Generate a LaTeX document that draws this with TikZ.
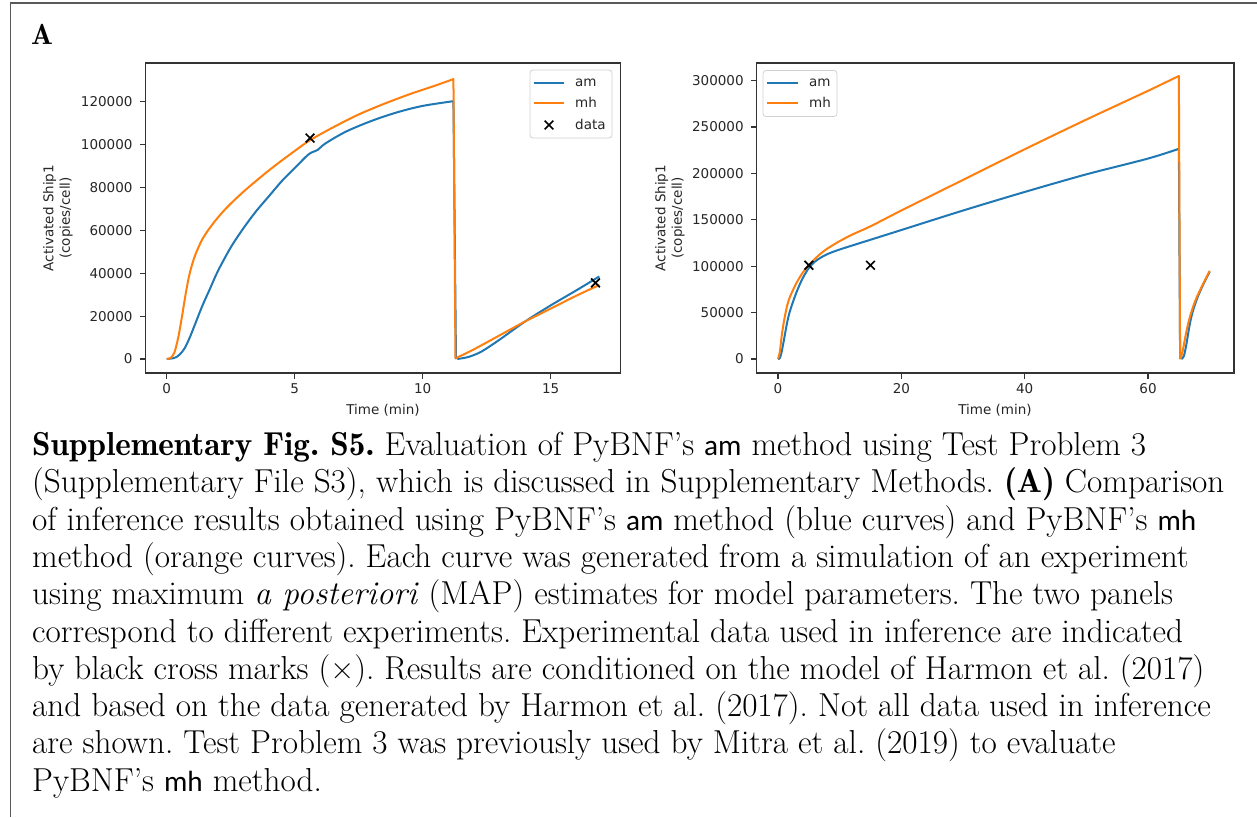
\documentclass[tikz,border=0pt]{standalone}
\usepackage{fontspec}
\usepackage{tikz}
\usetikzlibrary{shapes.misc}
\setmainfont{lmroman17-regular.otf}[BoldFont=lmromandemi10-regular.otf,ItalicFont=lmroman12-italic.otf]
\newfontfamily\plotfont{DejaVu Sans}
\newfontfamily\codefont[Scale=0.88]{Carlito}
\definecolor{ambl}{HTML}{1F77B4}
\definecolor{mhor}{HTML}{FF7F0E}

\begin{document}
\frenchspacing
\begin{tikzpicture}[x=1pt,y=-1pt,
  frameline/.style={draw=black!80,line width=1.1pt},
  ticklab/.style={font=\plotfont\fontsize{13.5}{16.5}\selectfont,text=black!85,inner sep=0pt},
  amline/.style={ambl,line width=2pt,line join=round},
  mhline/.style={mhor,line width=2pt,line join=round},
  datamark/.style={cross out,draw=black,line width=1.7pt,minimum size=7pt,inner sep=0pt},
  legbox/.style={draw=black!18,fill=white,rounded corners=3pt,line width=0.8pt}]

\useasboundingbox (0,0) rectangle (1257,817);
\draw[black!65,line width=1.6pt] (1257,3) -- (10.5,3) -- (10.5,817);

\node[font=\bfseries\fontsize{29}{30}\selectfont,anchor=base west,inner sep=0pt] (panA) at (31,44) {A};

% left panel
\begin{scope}[shift={(166.7,359)},x=25.6pt,y=2.145pt]
\draw[frameline] (-0.828,-6.53) rectangle (17.71,138);
\foreach \t in {0,5,10,15}
  \draw[frameline] (\t,-6.53) -- ++(0pt,-6pt) node[ticklab,anchor=north,yshift=-4pt] (xtl\t) {\t};
\foreach \v/\lab in {0/0,20/20000,40/40000,60/60000,80/80000,100/100000,120/120000}
  \draw[frameline] (-0.828,\v) -- ++(-6pt,0pt) node[ticklab,anchor=east,xshift=-6.5pt] (ytl\v) {\lab};

\draw[amline] plot[smooth,tension=0.5] coordinates {(0,0) (0.3,0.5) (0.5,2) (0.7,5) (0.9,10) (1.1,16)
  (1.4,25) (1.7,33) (2,41) (2.5,52) (3,61) (3.5,69) (4,76) (4.5,83) (5,89) (5.5,95) (5.7,96.5)
  (5.9,97.5) (6.2,100.5) (7,106) (8,111) (9,115) (10,118) (11.2,120.2)} -- (11.3,0);
\draw[amline] plot[smooth,tension=0.5] coordinates {(11.35,0) (11.8,1) (12.3,3.5) (13,9) (14,17.5)
  (15,25) (16,32) (16.9,38.5)};
\draw[mhline] plot[smooth,tension=0.5] coordinates {(0,0) (0.15,0.5) (0.3,3) (0.45,10) (0.6,20)
  (0.75,31) (0.9,40) (1.1,48) (1.4,56) (1.8,63) (2.3,70) (3,78) (4,88) (5,97) (5.6,102)
  (6.5,108) (7.5,114) (8.5,119) (9.5,123.5) (10.5,127.5) (11.2,130.5)} -- (11.28,0.3);
\draw[mhline] plot[smooth,tension=0.5] coordinates {(11.28,0.3) (12,4.5) (13,11) (14,17.5)
  (15,23.5) (16,29.5) (16.9,34.5)};

\node[datamark] (dL1) at (5.6,103) {};
\node[datamark] (dL2) at (16.75,35.5) {};
\end{scope}

\node[ticklab,rotate=90,align=center] (ylabL) at (58,218) {Activated Ship1\\(copies/cell)};
\node[ticklab] (xlabL) at (383,410) {Time (min)};

\draw[legbox] (530,70) rectangle (612,138);
\draw[amline] (534,82.7) -- (564,82.7);
\draw[mhline] (534,102.7) -- (564,102.7);
\node[datamark] (legdL) at (549,125) {};
\node[ticklab,anchor=west] (legamL) at (575,82.7) {am};
\node[ticklab,anchor=west] (legmhL) at (575,102.7) {mh};
\node[ticklab,anchor=west] (legdtL) at (575,124) {data};

% right panel
\begin{scope}[shift={(778,359)},x=6.167pt,y=0.928pt]
\draw[frameline] (-3.45,-15.09) rectangle (73.94,319);
\foreach \t in {0,20,40,60}
  \draw[frameline] (\t,-15.09) -- ++(0pt,-6pt) node[ticklab,anchor=north,yshift=-4pt] (xtr\t) {\t};
\foreach \v/\lab in {0/0,50/50000,100/100000,150/150000,200/200000,250/250000,300/300000}
  \draw[frameline] (-3.45,\v) -- ++(-6pt,0pt) node[ticklab,anchor=east,xshift=-6.5pt] (ytr\v) {\lab};

\draw[amline] plot[smooth,tension=0.5] coordinates {(0,0) (0.3,1) (0.6,8) (1,22) (1.5,40) (2,53)
  (3,72) (4,87) (5,98) (6,105) (7,109.5) (8,113) (10,118) (15,128.5) (20,139) (30,160)
  (40,180) (50,199) (60,216) (65,226.5)} -- (65.2,0);
\draw[amline] plot[smooth,tension=0.5] coordinates {(65.4,0) (65.8,3) (66.2,15) (66.7,35)
  (67.2,50) (68,66) (69,81) (70,94)};
\draw[mhline] plot[smooth,tension=0.5] coordinates {(0,0) (0.3,8) (0.6,25) (1,42) (1.5,58) (2,68)
  (3,82) (4,93) (5,101) (6,108) (7,114) (8,119) (10,127) (12,134) (15,143) (20,160) (30,193)
  (40,226) (50,258) (60,289) (65,305)} -- (65.2,0);
\draw[mhline] plot[smooth,tension=0.5] coordinates {(65.2,0) (65.6,8) (66,22) (66.5,38) (67,50)
  (67.5,60) (68,68) (69,82) (70,95)};

\node[datamark] (dR1) at (5,101) {};
\node[datamark] (dR2) at (15,101) {};
\end{scope}

\node[ticklab,rotate=90,align=center] (ylabR) at (670,218) {Activated Ship1\\(copies/cell)};
\node[ticklab] (xlabR) at (995,410) {Time (min)};

\draw[legbox] (763,70.5) rectangle (837,116.5);
\draw[amline] (767,82.7) -- (798,82.7);
\draw[mhline] (767,102.7) -- (798,102.7);
\node[ticklab,anchor=west] (legamR) at (809,82.7) {am};
\node[ticklab,anchor=west] (legmhR) at (809,102.7) {mh};

% caption
\node[anchor=north west,align=left,inner sep=0pt,font=\fontsize{33.2}{37.3}\selectfont] (capt) at (32,432)
{\textbf{Supplementary Fig. S5.} Evaluation of PyBNF’s {\codefont am} method using Test Problem 3\\
(Supplementary File S3), which is discussed in Supplementary Methods. \textbf{(A)} Comparison\\
of inference results obtained using PyBNF’s {\codefont am} method (blue curves) and PyBNF’s {\codefont mh}\\
method (orange curves). Each curve was generated from a simulation of an experiment\\
using maximum \textit{a posteriori} (MAP) estimates for model parameters. The two panels\\
correspond to different experiments. Experimental data used in inference are indicated\\
by black cross marks (×). Results are conditioned on the model of Harmon et al. (2017)\\
and based on the data generated by Harmon et al. (2017). Not all data used in inference\\
are shown. Test Problem 3 was previously used by Mitra et al. (2019) to evaluate\\
PyBNF’s {\codefont mh} method.};

\end{tikzpicture}
\end{document}
